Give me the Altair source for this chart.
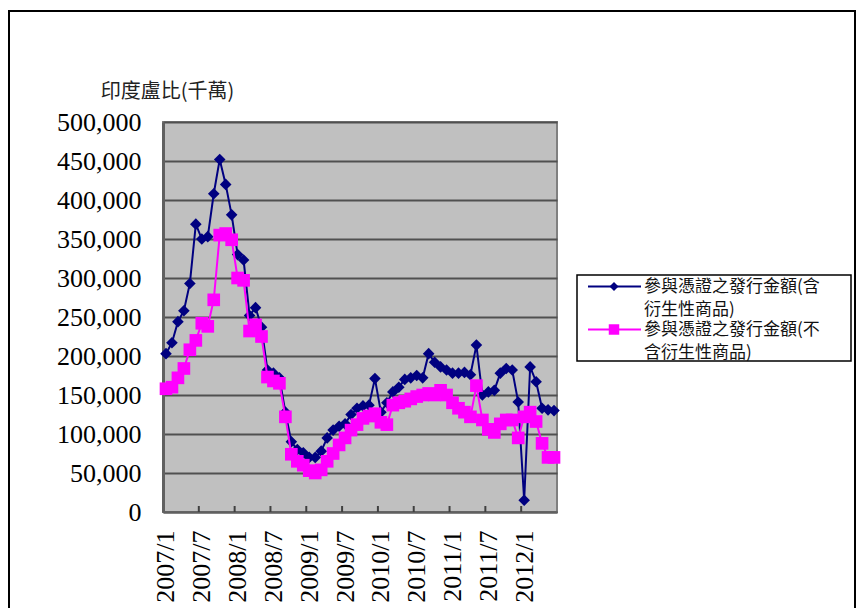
import altair as alt
import pandas as pd

# ---------------- data ----------------
months = [f"{y}/{m}" for y in range(2007, 2013) for m in range(1, 13)][:66]

series_names = ["參與憑證之發行金額(含衍生性商品)", "參與憑證之發行金額(不含衍生性商品)"]

s_with = [203000, 217000, 244000, 258000, 293000, 369000, 350000, 353000, 408000, 452000,
          420000, 381000, 330000, 323000, 252000, 262000, 237000, 182000, 178000, 172000,
          128000, 90000, 80000, 76000, 70000, 70000, 78000, 95000, 105000, 110000,
          113000, 125000, 133000, 136000, 137000, 171000, 128000, 140000, 154000, 160000,
          170000, 172000, 175000, 172000, 203000, 192000, 186000, 182000, 178000, 178000,
          179000, 176000, 214000, 150000, 154000, 156000, 178000, 184000, 182000, 141000,
          15000, 186000, 167000, 133000, 131000, 130000]

s_without = [158000, 160000, 172000, 184000, 208000, 220000, 242000, 238000, 272000, 355000,
             357000, 349000, 300000, 297000, 232000, 240000, 225000, 173000, 168000, 165000,
             122000, 74000, 65000, 60000, 53000, 50000, 54000, 65000, 75000, 86000,
             95000, 105000, 112000, 120000, 123000, 126000, 115000, 112000, 137000, 140000,
             142000, 145000, 148000, 150000, 152000, 150000, 156000, 150000, 140000, 133000,
             128000, 122000, 162000, 118000, 106000, 102000, 113000, 118000, 118000, 95000,
             122000, 128000, 116000, 88000, 70000, 70000]

x_labels = ["2007/1", "2007/7", "2008/1", "2008/7", "2009/1", "2009/7",
            "2010/1", "2010/7", "2011/1", "2011/7", "2012/1"]
y_ticks = [0, 50000, 100000, 150000, 200000, 250000, 300000, 350000, 400000, 450000, 500000]
y_title = "印度盧比(千萬)"

rows = []
for m, a, b in zip(months, s_with, s_without):
    rows.append({"月份": m, "系列": series_names[0], "金額": a})
    rows.append({"月份": m, "系列": series_names[1], "金額": b})
df = pd.DataFrame(rows)

# ---------------- layout ----------------
OX, OY = 163, 122
W, H = 394, 390
STEP = W / len(months)
BLUE = "#000080"
PINK = "#FF00FF"
CJK = "Noto Sans CJK TC"
SERIF = "Liberation Serif"

x_scale = alt.Scale(domain=months, type="point", padding=0.5)
y_scale = alt.Scale(domain=[0, 500000], nice=False, zero=True)

x_axis = alt.Axis(values=x_labels, labelAngle=270, labelFont=SERIF, labelFontSize=26,
                  labelColor="black", ticks=False, labelPadding=18,
                  domainColor="#606060", domainWidth=2, grid=False, title=None,
                  labelAlign="right", labelBaseline="middle", labelOverlap=False)
x_enc = alt.X("月份:O", scale=x_scale, sort=months, axis=x_axis)
y_enc = alt.Y("金額:Q", scale=y_scale,
              axis=alt.Axis(values=y_ticks, format=",d", labelFont=SERIF, labelFontSize=26,
                            labelColor="black", ticks=False, labelPadding=22,
                            domainColor="#606060", domainWidth=3,
                            grid=True, gridColor="#505050", gridWidth=2,
                            title=y_title, titleAngle=0, titleFont=CJK, titleFontSize=20,
                            titleFontWeight="normal", titleColor="#222222",
                            titleX=4, titleY=-31, titleAlign="center", titleBaseline="middle"))

base = alt.Chart(df)

blue_df = base.transform_filter(alt.datum["系列"] == series_names[0])
pink_df = base.transform_filter(alt.datum["系列"] == series_names[1])

blue_line = blue_df.mark_line(color=BLUE, strokeWidth=2).encode(x=x_enc, y=y_enc)
blue_pts = blue_df.mark_point(shape="diamond", filled=True, color=BLUE, size=135, opacity=1).encode(x=x_enc, y=y_enc)
pink_line = pink_df.mark_line(color=PINK, strokeWidth=2).encode(x=x_enc, y=y_enc)
pink_pts = pink_df.mark_point(shape="square", filled=True, color=PINK, size=160, opacity=1).encode(x=x_enc, y=y_enc)

# inner tick marks at category boundaries every 6 months
tick_df = pd.DataFrame({"月份": x_labels[1:]})
ticks = alt.Chart(tick_df).mark_rule(color="#404040", strokeWidth=2).encode(
    x=alt.X("月份:O", scale=x_scale, sort=months, axis=x_axis),
    xOffset=alt.value(-STEP / 2),
    y=alt.value(H - 6), y2=alt.value(H))

one = pd.DataFrame({"k": [0]})

# outer chart border
border = alt.Chart(one).mark_rect(fill=None, stroke="black", strokeWidth=2).encode(
    x=alt.value(9 - OX), x2=alt.value(855 - OX), y=alt.value(11 - OY), y2=alt.value(640 - OY))

# legend (drawn manually to match the two-line wrapped labels)
lx0, ly0 = 577 - OX, 275 - OY
legend_box = alt.Chart(one).mark_rect(fill="white", stroke="black", strokeWidth=1.5).encode(
    x=alt.value(lx0), x2=alt.value(851 - OX), y=alt.value(ly0), y2=alt.value(361 - OY))

legend_layers = [legend_box]
entries = [
    (BLUE, "diamond", 80, 286.5 - OY, [series_names[0][:11], series_names[0][11:]]),
    (PINK, "square", 110, 329.5 - OY, [series_names[1][:11], series_names[1][11:]]),
]
for color, shape, size, yy, lines in entries:
    legend_layers.append(alt.Chart(one).mark_rule(color=color, strokeWidth=2).encode(
        x=alt.value(588 - OX), x2=alt.value(641 - OX), y=alt.value(yy)))
    legend_layers.append(alt.Chart(one).mark_point(shape=shape, filled=True, color=color, size=size, opacity=1).encode(
        x=alt.value(614 - OX), y=alt.value(yy)))
    for j, t in enumerate(lines):
        legend_layers.append(alt.Chart(one).mark_text(text=t, font=CJK, fontSize=17, color="#111111",
                                                       align="left", baseline="middle").encode(
            x=alt.value(644 - OX), y=alt.value(yy + j * 23)))

chart = alt.layer(border, blue_line, blue_pts, pink_line, pink_pts, ticks, *legend_layers).properties(
    width=W, height=H,
    autosize=alt.AutoSizeParams(type="none"),
    padding={"left": OX, "top": OY, "right": 858 - OX - W, "bottom": 608 - OY - H},
    background="white",
).configure_view(fill="#C0C0C0", stroke="#808080", strokeWidth=2)

chart.save("out.html", embed_options={"renderer": "svg", "actions": False})
